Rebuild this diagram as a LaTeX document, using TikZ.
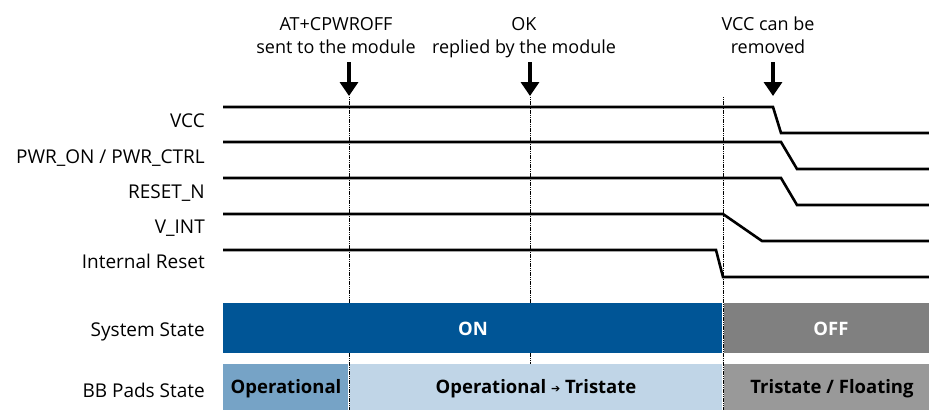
\documentclass[tikz,border=0pt]{standalone}
\usepackage{fontspec}
\setmainfont{Open Sans}
\newfontfamily\symfont{DejaVu Sans}
\usetikzlibrary{arrows.meta}
\definecolor{onblue}{HTML}{005596}
\definecolor{offgray}{HTML}{808080}
\definecolor{opblue}{HTML}{76A3C6}
\definecolor{optri}{HTML}{C0D5E7}
\definecolor{trigray}{HTML}{999999}
\begin{document}
\begin{tikzpicture}[x=1pt,y=-1pt,
  sig/.style={line width=2.6pt, line join=miter},
  marker/.style={line width=0.9pt, dash pattern=on 1.2pt off 0.6pt},
  evarrow/.style={line width=3.4pt, -{Triangle[width=18pt,length=14pt]}},
  lbl/.style={anchor=base east, inner sep=0pt, font=\fontsize{19}{19}\selectfont},
  toplbl/.style={align=center, inner sep=0pt, anchor=base, font=\fontsize{18}{23}\selectfont},
  bartxt/.style={inner sep=0pt, font=\bfseries\fontsize{18.5}{18}\selectfont},
  bar/.style={draw=none, inner sep=0pt, anchor=north west}]
\useasboundingbox (0,0) rectangle (929,410);

% event coordinates
\coordinate (m1t) at (349,97);  \coordinate (m1b) at (349,410);
\coordinate (m2t) at (530,97);  \coordinate (m2b) at (530,410);
\coordinate (m3t) at (723,97);  \coordinate (m3b) at (723,410);
\coordinate (a1s) at (349,62);  \coordinate (a1e) at (349,96);
\coordinate (a2s) at (530,62);  \coordinate (a2e) at (530,96);
\coordinate (a3s) at (773,62);  \coordinate (a3e) at (773,96);

% dashed markers
\draw[marker] (m1t) -- (m1b);
\draw[marker] (m2t) -- (m2b);
\draw[marker] (m3t) -- (m3b);

% event arrows
\draw[evarrow] (a1s) -- (a1e);
\draw[evarrow] (a2s) -- (a2e);
\draw[evarrow] (a3s) -- (a3e);

% top labels (anchor = baseline of last line)
\node[toplbl] (t1) at (336,53) {AT+CPWROFF\\sent to the module};
\node[toplbl] (t2) at (524,53) {OK\\replied by the module};
\node[toplbl] (t3) at (768,53) {VCC can be\\removed};

% signals
\draw[sig] (223,107) -- (773,107) -- (781,133) -- (929,133);
\draw[sig] (223,142) -- (781,142) -- (797,169) -- (929,169);
\draw[sig] (223,178) -- (781,178) -- (797,205) -- (929,205);
\draw[sig] (223,214) -- (723,214) -- (762,241) -- (929,241);
\draw[sig] (223,250) -- (716,250) -- (723,277) -- (929,277);

% signal labels
\node[lbl] (lvcc) at (205,127) {VCC};
\node[lbl] (lpwr) at (205,163) {PWR\_ON / PWR\_CTRL};
\node[lbl] (lrst) at (205,198) {RESET\_N};
\node[lbl] (lvint) at (205,233) {V\_INT};
\node[lbl] (lir) at (205,268) {Internal Reset};
\node[lbl] (lss) at (205,336) {System State};
\node[lbl] (lbb) at (205,397) {BB Pads State};

% system state bar
\fill[onblue] (223,303) rectangle (722.4,353);
\fill[offgray] (723.6,303) rectangle (929,353);
\node[bartxt, text=white] (son) at (473,329) {ON};
\node[bartxt, text=white] (soff) at (831,329) {OFF};

% BB pads bar
\fill[opblue] (223,364) rectangle (348.4,410);
\fill[optri] (349.6,364) rectangle (722.4,410);
\fill[trigray] (723.6,364) rectangle (929,410);
\node[bartxt] (pop) at (286,389) {Operational};
\node[bartxt] (potr) at (536,389) {Operational {\symfont\fontsize{11}{11}\selectfont\raisebox{1pt}{➔}} Tristate};
\node[bartxt] (ptri) at (832,389) {Tristate / Floating};
\end{tikzpicture}
\end{document}
